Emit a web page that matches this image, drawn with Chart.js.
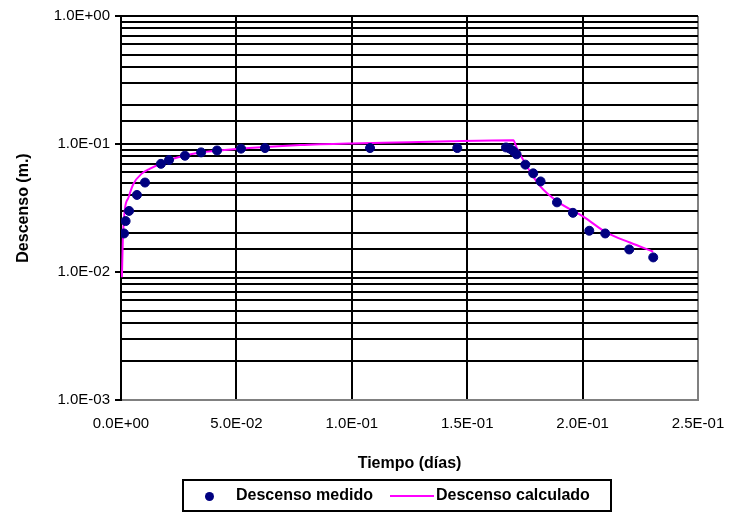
<!DOCTYPE html>
<html>
<head>
<meta charset="utf-8">
<script src="https://cdn.jsdelivr.net/npm/chart.js@4.4.1/dist/chart.umd.min.js"></script>
<style>
  html, body { margin: 0; padding: 0; background: #fff; }
  #wrap { position: relative; width: 731px; height: 516px; }
  #legend {
    position: absolute; left: 182px; top: 479px; width: 426px; height: 29px;
    border: 2px solid #000; box-sizing: content-box;
    font: bold 16px "Liberation Sans", Arial, sans-serif; color: #000;
  }
  #legend .dot { position: absolute; left: 21px; top: 11px; width: 9px; height: 9px; border-radius: 50%; background: #000080; }
  #legend .t1 { position: absolute; left: 52px; top: 5px; }
  #legend .ln { position: absolute; left: 206px; top: 14px; width: 44px; height: 2px; background: #ff00ff; }
  #legend .t2 { position: absolute; left: 252px; top: 5px; }
</style>
</head>
<body>
<div id="wrap">
  <canvas id="chart" width="731" height="516"></canvas>
  <div id="legend">
    <span class="dot"></span><span class="t1">Descenso medido</span>
    <span class="ln"></span><span class="t2">Descenso calculado</span>
  </div>
</div>
<script>
// measured drawdown (time in days, drawdown in m)
const medidoTiempo = [0.0013, 0.0020, 0.0035, 0.0069, 0.0104, 0.0173, 0.0208, 0.0277, 0.0347, 0.0416,
  0.0520, 0.0624, 0.1079, 0.1457, 0.1668, 0.1685, 0.1700, 0.1714, 0.1752, 0.1786, 0.1818, 0.1889,
  0.1958, 0.2029, 0.2098, 0.2202, 0.2306];
const medidoDescenso = [0.020, 0.025, 0.030, 0.040, 0.050, 0.070, 0.075, 0.081, 0.086, 0.089,
  0.092, 0.093, 0.093, 0.093, 0.094, 0.092, 0.088, 0.083, 0.069, 0.059, 0.051, 0.035,
  0.029, 0.021, 0.020, 0.015, 0.013];

// calculated drawdown
const calcTiempo = [0.0004, 0.0008, 0.0017, 0.0032, 0.0053, 0.0090, 0.0126, 0.0198, 0.0270, 0.0342,
  0.0487, 0.0776, 0.1000, 0.1250, 0.1425, 0.1700, 0.1714, 0.1758, 0.1815, 0.1888, 0.2003,
  0.2104, 0.2205, 0.2306];
const calcDescenso = [0.0091, 0.018, 0.031, 0.038, 0.0485, 0.0587, 0.0642, 0.0737, 0.0806, 0.0857,
  0.0909, 0.098, 0.101, 0.103, 0.105, 0.107, 0.0937, 0.0673, 0.047, 0.0358, 0.0271,
  0.0203, 0.017, 0.0144];

const xTicks = [0, 0.05, 0.1, 0.15, 0.2, 0.25];
const yMin = 0.001, yMax = 1;

function sci(v) {
  const parts = v.toExponential(1).split('e');
  const n = parseInt(parts[1], 10);
  return parts[0] + 'E' + (n < 0 ? '-' : '+') + String(Math.abs(n)).padStart(2, '0');
}
function isDecade(v) {
  const l = Math.log10(v);
  return Math.abs(l - Math.round(l)) < 1e-6;
}
const toPts = (xs, ys) => xs.map((x, i) => ({ x: x, y: ys[i] }));

Chart.defaults.font.family = '"Liberation Sans", Arial, sans-serif';
Chart.defaults.color = '#000';

new Chart(document.getElementById('chart').getContext('2d'), {
  type: 'scatter',
  data: {
    datasets: [
      {
        label: 'Descenso medido',
        data: toPts(medidoTiempo, medidoDescenso),
        backgroundColor: '#000080',
        borderColor: '#000080',
        pointRadius: 4.5,
        showLine: false
      },
      {
        label: 'Descenso calculado',
        data: toPts(calcTiempo, calcDescenso),
        borderColor: '#ff00ff',
        borderWidth: 2,
        pointRadius: 0,
        showLine: true,
        cubicInterpolationMode: 'monotone'
      }
    ]
  },
  options: {
    responsive: false,
    animation: false,
    layout: { padding: { top: 16, right: 33, bottom: 38, left: 0 } },
    plugins: {
      legend: { display: false },
      tooltip: { enabled: false }
    },
    scales: {
      x: {
        type: 'linear',
        min: 0,
        max: 0.25,
        afterBuildTicks: (axis) => { axis.ticks = xTicks.map(v => ({ value: v })); },
        afterFit: (axis) => {
          axis.height = 78;
          // labels may overhang, keep the plot edges where the reference has them
          axis.paddingLeft = 0;
          axis.paddingRight = 0;
        },
        ticks: {
          padding: 15,
          font: { size: 15 },
          maxRotation: 0,
          callback: (v) => sci(v)
        },
        grid: {
          color: (ctx) => (ctx.tick && ctx.tick.value > 0.249 ? '#808080' : '#000'),
          lineWidth: 2,
          drawTicks: false
        },
        border: { color: '#808080', width: 2 },
        title: {
          display: true,
          text: 'Tiempo (días)',
          font: { size: 16, weight: 'bold' },
          padding: { top: 0, bottom: 5 }
        }
      },
      y: {
        type: 'logarithmic',
        min: yMin,
        max: yMax,
        afterFit: (axis) => { axis.width = 121; },
        ticks: {
          autoSkip: false,
          padding: 5,
          font: { size: 15 },
          callback: (v) => (isDecade(v) ? sci(v) : '')
        },
        grid: {
          color: (ctx) => (ctx.tick && ctx.tick.value < 0.0011 ? '#808080' : '#000'),
          tickColor: (ctx) => (ctx.tick && isDecade(ctx.tick.value) ? '#000' : 'rgba(0,0,0,0)'),
          lineWidth: 2,
          tickLength: 6
        },
        border: { color: '#000', width: 2 },
        title: {
          display: true,
          text: 'Descenso (m.)',
          font: { size: 16, weight: 'bold' },
          padding: { top: 14, bottom: 0 }
        }
      }
    }
  }
});
</script>
</body>
</html>
